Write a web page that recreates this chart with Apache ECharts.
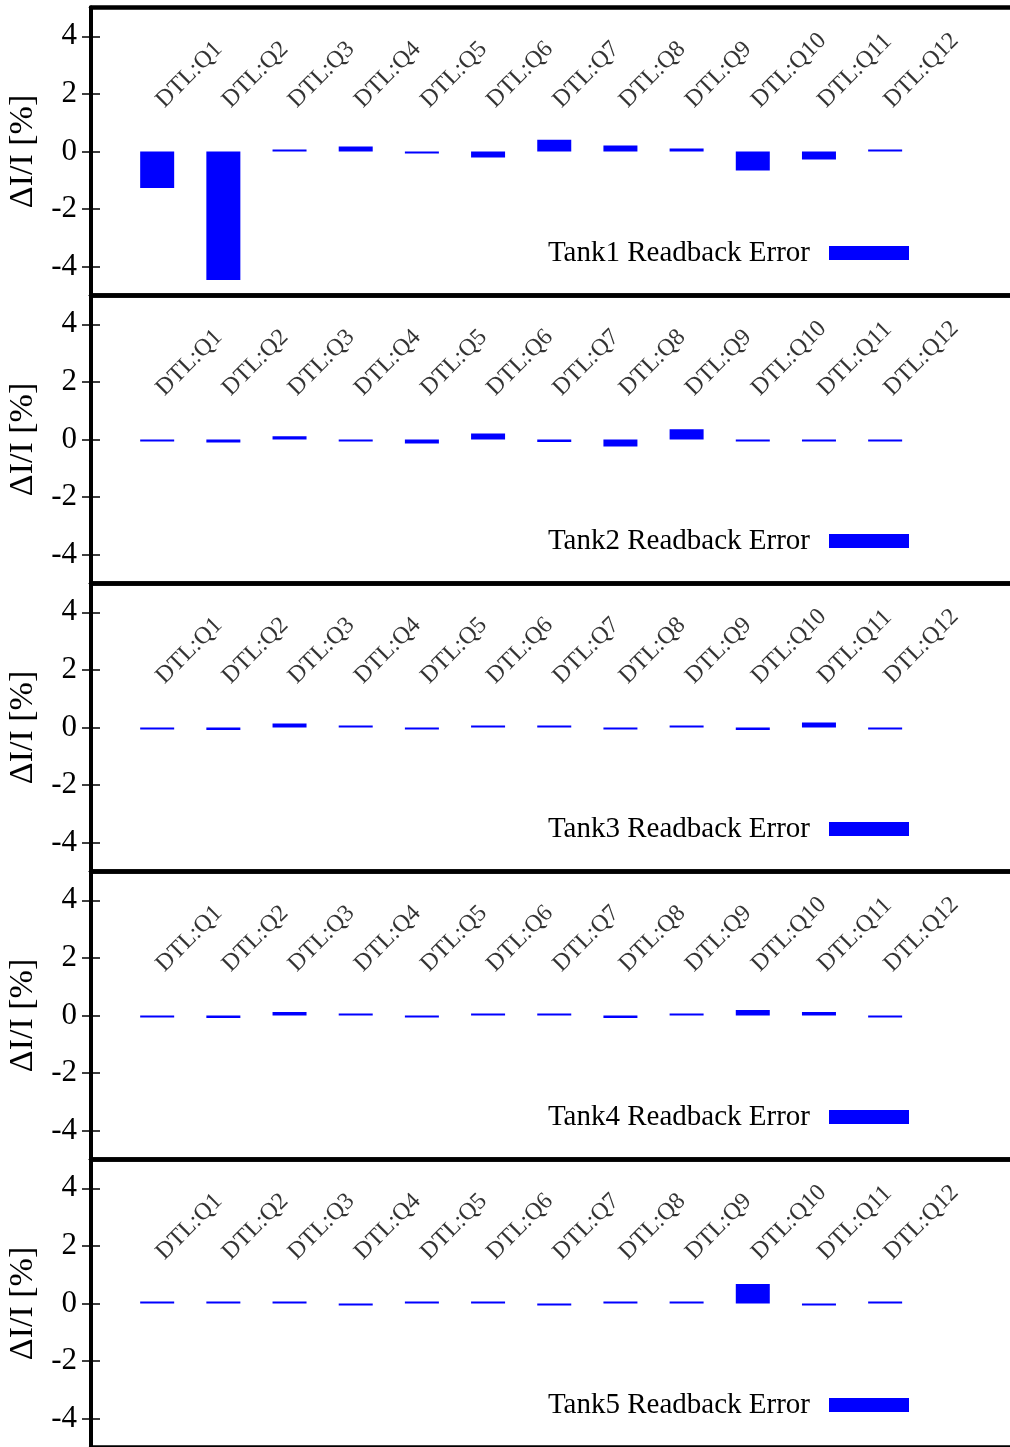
<!DOCTYPE html>
<html>
<head>
<meta charset="utf-8">
<script src="https://cdn.jsdelivr.net/npm/echarts@6/dist/echarts.min.js"></script>
<style>
html,body{margin:0;padding:0;background:#fff;}
#c{width:1010px;height:1447px;}
</style>
</head>
<body>
<div id="c"></div>
<script>
// ---- data ----
const magnets = ['DTL:Q1','DTL:Q2','DTL:Q3','DTL:Q4','DTL:Q5','DTL:Q6','DTL:Q7','DTL:Q8','DTL:Q9','DTL:Q10','DTL:Q11','DTL:Q12'];
const positions = [1,2,3,4,5,6,7,8,9,10,11,12];
const tankNames = ['Tank1 Readback Error','Tank2 Readback Error','Tank3 Readback Error','Tank4 Readback Error','Tank5 Readback Error'];
const tank1 = [-1.27, -4.46, 0.04, 0.17, -0.07, -0.21, 0.41, 0.21, 0.10, -0.66, -0.28, 0.06];
const tank2 = [-0.06, -0.10, 0.11, -0.03, -0.14, 0.21, -0.09, -0.24, 0.36, -0.03, -0.03, -0.03];
const tank3 = [-0.06, -0.09, 0.14, 0.07, -0.06, 0.03, 0.05, -0.06, 0.03, -0.09, 0.17, -0.06];
const tank4 = [-0.06, -0.09, 0.12, 0.05, -0.06, 0.02, 0.07, -0.09, 0.05, 0.19, 0.12, -0.06];
const tank5 = [0.02, 0.02, 0.02, -0.05, 0.02, 0.02, -0.03, 0.02, 0.05, 0.68, -0.05, 0.05];
const tanks = [tank1, tank2, tank3, tank4, tank5];
const yTicks = [-4, -2, 0, 2, 4];
const labelY = 1.55;
const yTitle = 'ΔI/I [%]';

// ---- layout ----
const FONT = '"Liberation Serif", "DejaVu Serif", serif';
const panelTop = 7.5, panelH = 288, gridLeft = 91, gridW = 926.5;
const blue = '#0000ff';

const grids = [], xAxes = [], yAxes = [], series = [], legends = [];
tanks.forEach((vals, i) => {
  const top = panelTop + i * panelH;
  grids.push({left: gridLeft, top: top, width: gridW, height: panelH, outerBoundsMode: 'none', containLabel: false});
  const axLine = {show: true, onZero: false, lineStyle: {color: '#000', width: 4.5}};
  xAxes.push({gridIndex: i, type: 'value', min: 0, max: 14, position: 'bottom',
    axisLine: axLine, axisTick: {show: false}, axisLabel: {show: false}, splitLine: {show: false}});
  xAxes.push({gridIndex: i, type: 'value', min: 0, max: 14, position: 'top',
    axisLine: axLine, axisTick: {show: false}, axisLabel: {show: false}, splitLine: {show: false}});
  yAxes.push({gridIndex: i, type: 'value', min: -5, max: 5, position: 'left',
    name: yTitle, nameLocation: 'middle', nameGap: 48, nameRotate: 90,
    nameTextStyle: {fontFamily: FONT, fontSize: 34, color: '#000'},
    axisLine: {show: true, onZero: false, lineStyle: {color: '#000', width: 4}},
    axisTick: {show: true, inside: true, length: 9, customValues: yTicks, lineStyle: {color: '#000', width: 1.5}},
    axisLabel: {show: true, customValues: yTicks, margin: 14, fontFamily: FONT, fontSize: 31, color: '#000'},
    splitLine: {show: false}});
  yAxes.push({gridIndex: i, type: 'value', min: -5, max: 5, position: 'right',
    axisLine: {show: false},
    axisTick: {show: true, inside: true, length: 9, customValues: yTicks, lineStyle: {color: '#000', width: 1.5}},
    axisLabel: {show: false}, splitLine: {show: false}});
  series.push({
    name: tankNames[i], type: 'bar', xAxisIndex: i * 2, yAxisIndex: i * 2,
    barWidth: 34, barMinHeight: 2, itemStyle: {color: blue},
    data: positions.map((p, k) => [p, vals[k]])
  });
  series.push({
    name: 'labels' + i, type: 'scatter', xAxisIndex: i * 2, yAxisIndex: i * 2,
    symbolSize: 1, itemStyle: {color: 'rgba(0,0,0,0)'}, silent: true,
    label: {show: true, formatter: '{b}', position: 'inside', align: 'left', verticalAlign: 'bottom',
      rotate: 45, fontFamily: FONT, fontSize: 24, color: '#000', offset: [4, 12]},
    data: positions.map((p, k) => ({name: magnets[k], value: [p, labelY]}))
  });
  legends.push({
    data: [tankNames[i]], right: 96, top: top + 226, orient: 'vertical', align: 'right',
    itemWidth: 80, itemHeight: 14, icon: 'rect', selectedMode: false,
    textStyle: {fontFamily: FONT, fontSize: 29, color: '#000', padding: [0, 14, 0, 0]}
  });
});

const chart = echarts.init(document.getElementById('c'), null, {renderer: 'canvas'});
chart.setOption({
  animation: false,
  backgroundColor: '#fff',
  grid: grids, xAxis: xAxes, yAxis: yAxes, series: series, legend: legends
});
</script>
</body>
</html>
